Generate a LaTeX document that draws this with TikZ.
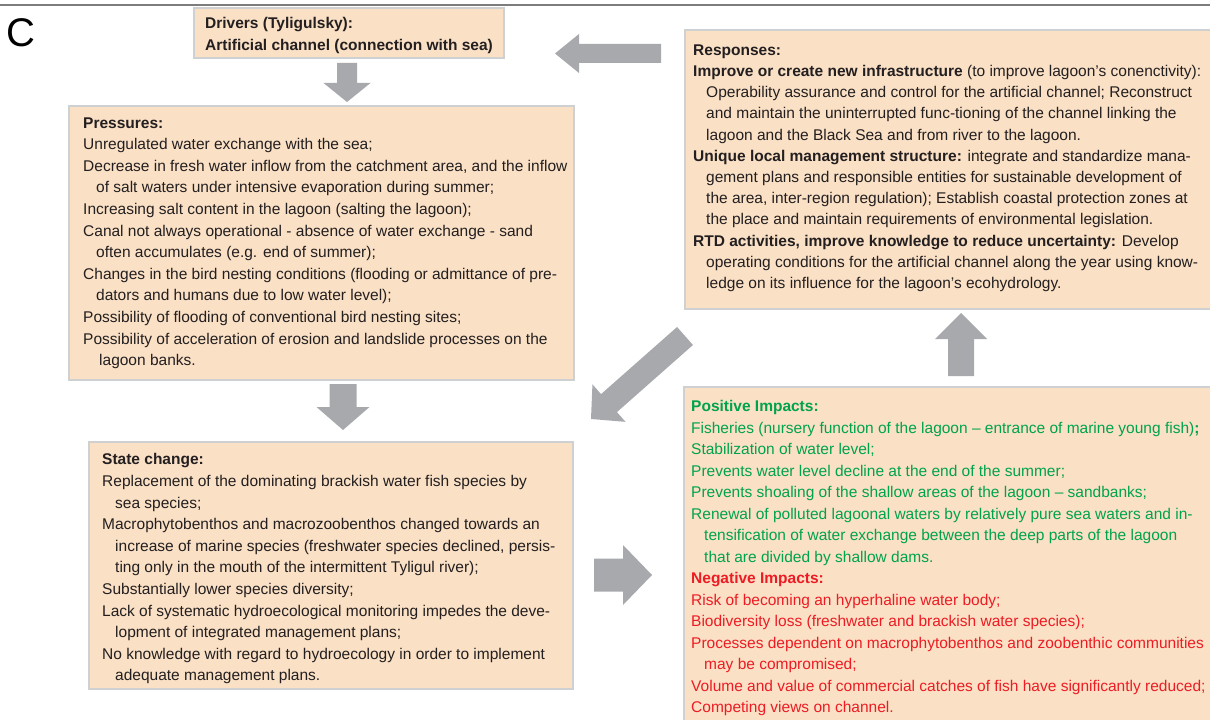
\documentclass[tikz,border=0pt]{standalone}
\usepackage{fontspec}
\setmainfont{Liberation Sans}
\usetikzlibrary{calc}
\definecolor{boxfill}{RGB}{250,224,197}
\definecolor{boxline}{RGB}{206,208,210}
\definecolor{arrowgray}{RGB}{167,169,172}
\definecolor{rulegray}{RGB}{125,125,125}
\definecolor{txt}{RGB}{35,31,32}
\definecolor{posgreen}{RGB}{0,163,77}
\definecolor{negred}{RGB}{237,28,36}
\newcommand\ind{\hspace*{13bp}}
% block arrow: from, to, shaft half width, head half width, head length
\newcommand\blockarrow[5]{%
  \coordinate (ba-h) at ($(#2)!#5!(#1)$);
  \fill[arrowgray] ($(#1)!#3!90:(#2)$) -- ($(ba-h)!#3!90:(#2)$) -- ($(ba-h)!#4!90:(#2)$) -- (#2)
    -- ($(ba-h)!#4!-90:(#2)$) -- ($(ba-h)!#3!-90:(#2)$) -- ($(#1)!#3!-90:(#2)$) -- cycle;}
\tikzset{
  box/.style={draw=boxline, line width=1.8bp, fill=boxfill, rectangle, inner sep=0pt, anchor=north west},
  boxtext/.style={anchor=north west, inner sep=0pt, align=left, text=txt, font=\fontsize{15.5bp}{21.6bp}\selectfont},
  resptext/.style={boxtext, font=\fontsize{15.5bp}{21.2bp}\selectfont},
  imptext/.style={anchor=north west, inner sep=0pt, align=left, font=\fontsize{15.5bp}{21.5bp}\selectfont},
}
\begin{document}
\begin{tikzpicture}[x=1bp, y=-1bp]
\useasboundingbox (0,0) rectangle (1210,720);
\clip (0,0) rectangle (1210,720);
\fill[white] (0,0) rectangle (1210,720);
\draw[rulegray, line width=2.5bp] (0,5) -- (1210,5);
\node[anchor=base west, inner sep=0pt, font=\fontsize{40bp}{40bp}\selectfont, text=black] (clabel) at (6,47) {C};

% boxes
\node[box, minimum width=310bp, minimum height=50bp] (drivers) at (193,7) {};
\node[box, minimum width=505bp, minimum height=274bp] (pressures) at (68,105) {};
\node[box, minimum width=530bp, minimum height=279bp] (responses) at (684,29) {};
\node[box, minimum width=484bp, minimum height=247bp] (state) at (88,441) {};
\node[box, minimum width=532bp, minimum height=360bp] (impacts) at (683,386) {};

% texts
\node[boxtext] (driverstext) at (205,17.3) {\textbf{Drivers (Tyligulsky):}\\\textbf{Artificial channel (connection with sea)}};

\node[boxtext] (pressurestext) at (83,117.3) {\textbf{Pressures:}\\
Unregulated water exchange with the sea;\\
Decrease in fresh water inflow from the catchment area, and the inflow\\
\ind of salt waters under intensive evaporation during summer;\\
Increasing salt content in the lagoon (salting the lagoon);\\
Canal not always operational - absence of water exchange - sand\\
\ind often accumulates (e.g. end of summer);\\
Changes in the bird nesting conditions (flooding or admittance of pre-\\
\ind dators and humans due to low water level);\\
Possibility of flooding of conventional bird nesting sites;\\
Possibility of acceleration of erosion and landslide processes on the\\
\ind\hspace*{3bp}lagoon banks.};

\node[resptext] (responsestext) at (693,44.5) {\textbf{Responses:}\\
\textbf{Improve or create new infrastructure} (to improve lagoon’s conenctivity):\\
\ind Operability assurance and control for the artificial channel; Reconstruct\\
\ind and maintain the uninterrupted func-tioning of the channel linking the\\
\ind lagoon and the Black Sea and from river to the lagoon.\\
\textbf{Unique local management structure:} integrate and standardize mana-\\
\ind gement plans and responsible entities for sustainable development of\\
\ind the area, inter-region regulation); Establish coastal protection zones at\\
\ind the place and maintain requirements of environmental legislation.\\
\textbf{RTD activities, improve knowledge to reduce uncertainty:} Develop\\
\ind operating conditions for the artificial channel along the year using know-\\
\ind ledge on its influence for the lagoon’s ecohydrology.};

\node[boxtext] (statetext) at (102,453.5) {\textbf{State change:}\\
Replacement of the dominating brackish water fish species by\\
\ind sea species;\\
Macrophytobenthos and macrozoobenthos changed towards an\\
\ind increase of marine species (freshwater species declined, persis-\\
\ind ting only in the mouth of the intermittent Tyligul river);\\
Substantially lower species diversity;\\
Lack of systematic hydroecological monitoring impedes the deve-\\
\ind lopment of integrated management plans;\\
No knowledge with regard to hydroecology in order to implement\\
\ind adequate management plans.};

\node[imptext, text=posgreen] (postext) at (691,400.5) {\textbf{Positive Impacts:}\\
Fisheries (nursery function of the lagoon -- entrance of marine young fish)\textbf{;}\\
Stabilization of water level;\\
Prevents water level decline at the end of the summer;\\
Prevents shoaling of the shallow areas of the lagoon -- sandbanks;\\
Renewal of polluted lagoonal waters by relatively pure sea waters and in-\\
\ind tensification of water exchange between the deep parts of the lagoon\\
\ind that are divided by shallow dams.};

\node[imptext, text=negred] (negtext) at (691,572.5) {\textbf{Negative Impacts:}\\
Risk of becoming an hyperhaline water body;\\
Biodiversity loss (freshwater and brackish water species);\\
Processes dependent on macrophytobenthos and zoobenthic communities\\
\ind may be compromised;\\
Volume and value of commercial catches of fish have significantly reduced;\\
Competing views on channel.};

% arrows
\coordinate (a1s) at (347,63);   \coordinate (a1e) at (347,102);
\coordinate (a2s) at (343,384);  \coordinate (a2e) at (343,430);
\coordinate (a3s) at (594,575);  \coordinate (a3e) at (652,575);
\coordinate (a4s) at (961,376);  \coordinate (a4e) at (961,313);
\coordinate (a5s) at (661,53.5); \coordinate (a5e) at (555,53.5);
\coordinate (a6s) at (685,336);  \coordinate (a6e) at (591,419);
\blockarrow{a1s}{a1e}{10bp}{23.5bp}{19bp}
\blockarrow{a2s}{a2e}{13.5bp}{26.5bp}{23bp}
\blockarrow{a3s}{a3e}{16.5bp}{30bp}{29bp}
\blockarrow{a4s}{a4e}{13bp}{26bp}{26bp}
\blockarrow{a5s}{a5e}{9.5bp}{19.5bp}{24bp}
\blockarrow{a6s}{a6e}{12bp}{25bp}{24bp}
\end{tikzpicture}
\end{document}
